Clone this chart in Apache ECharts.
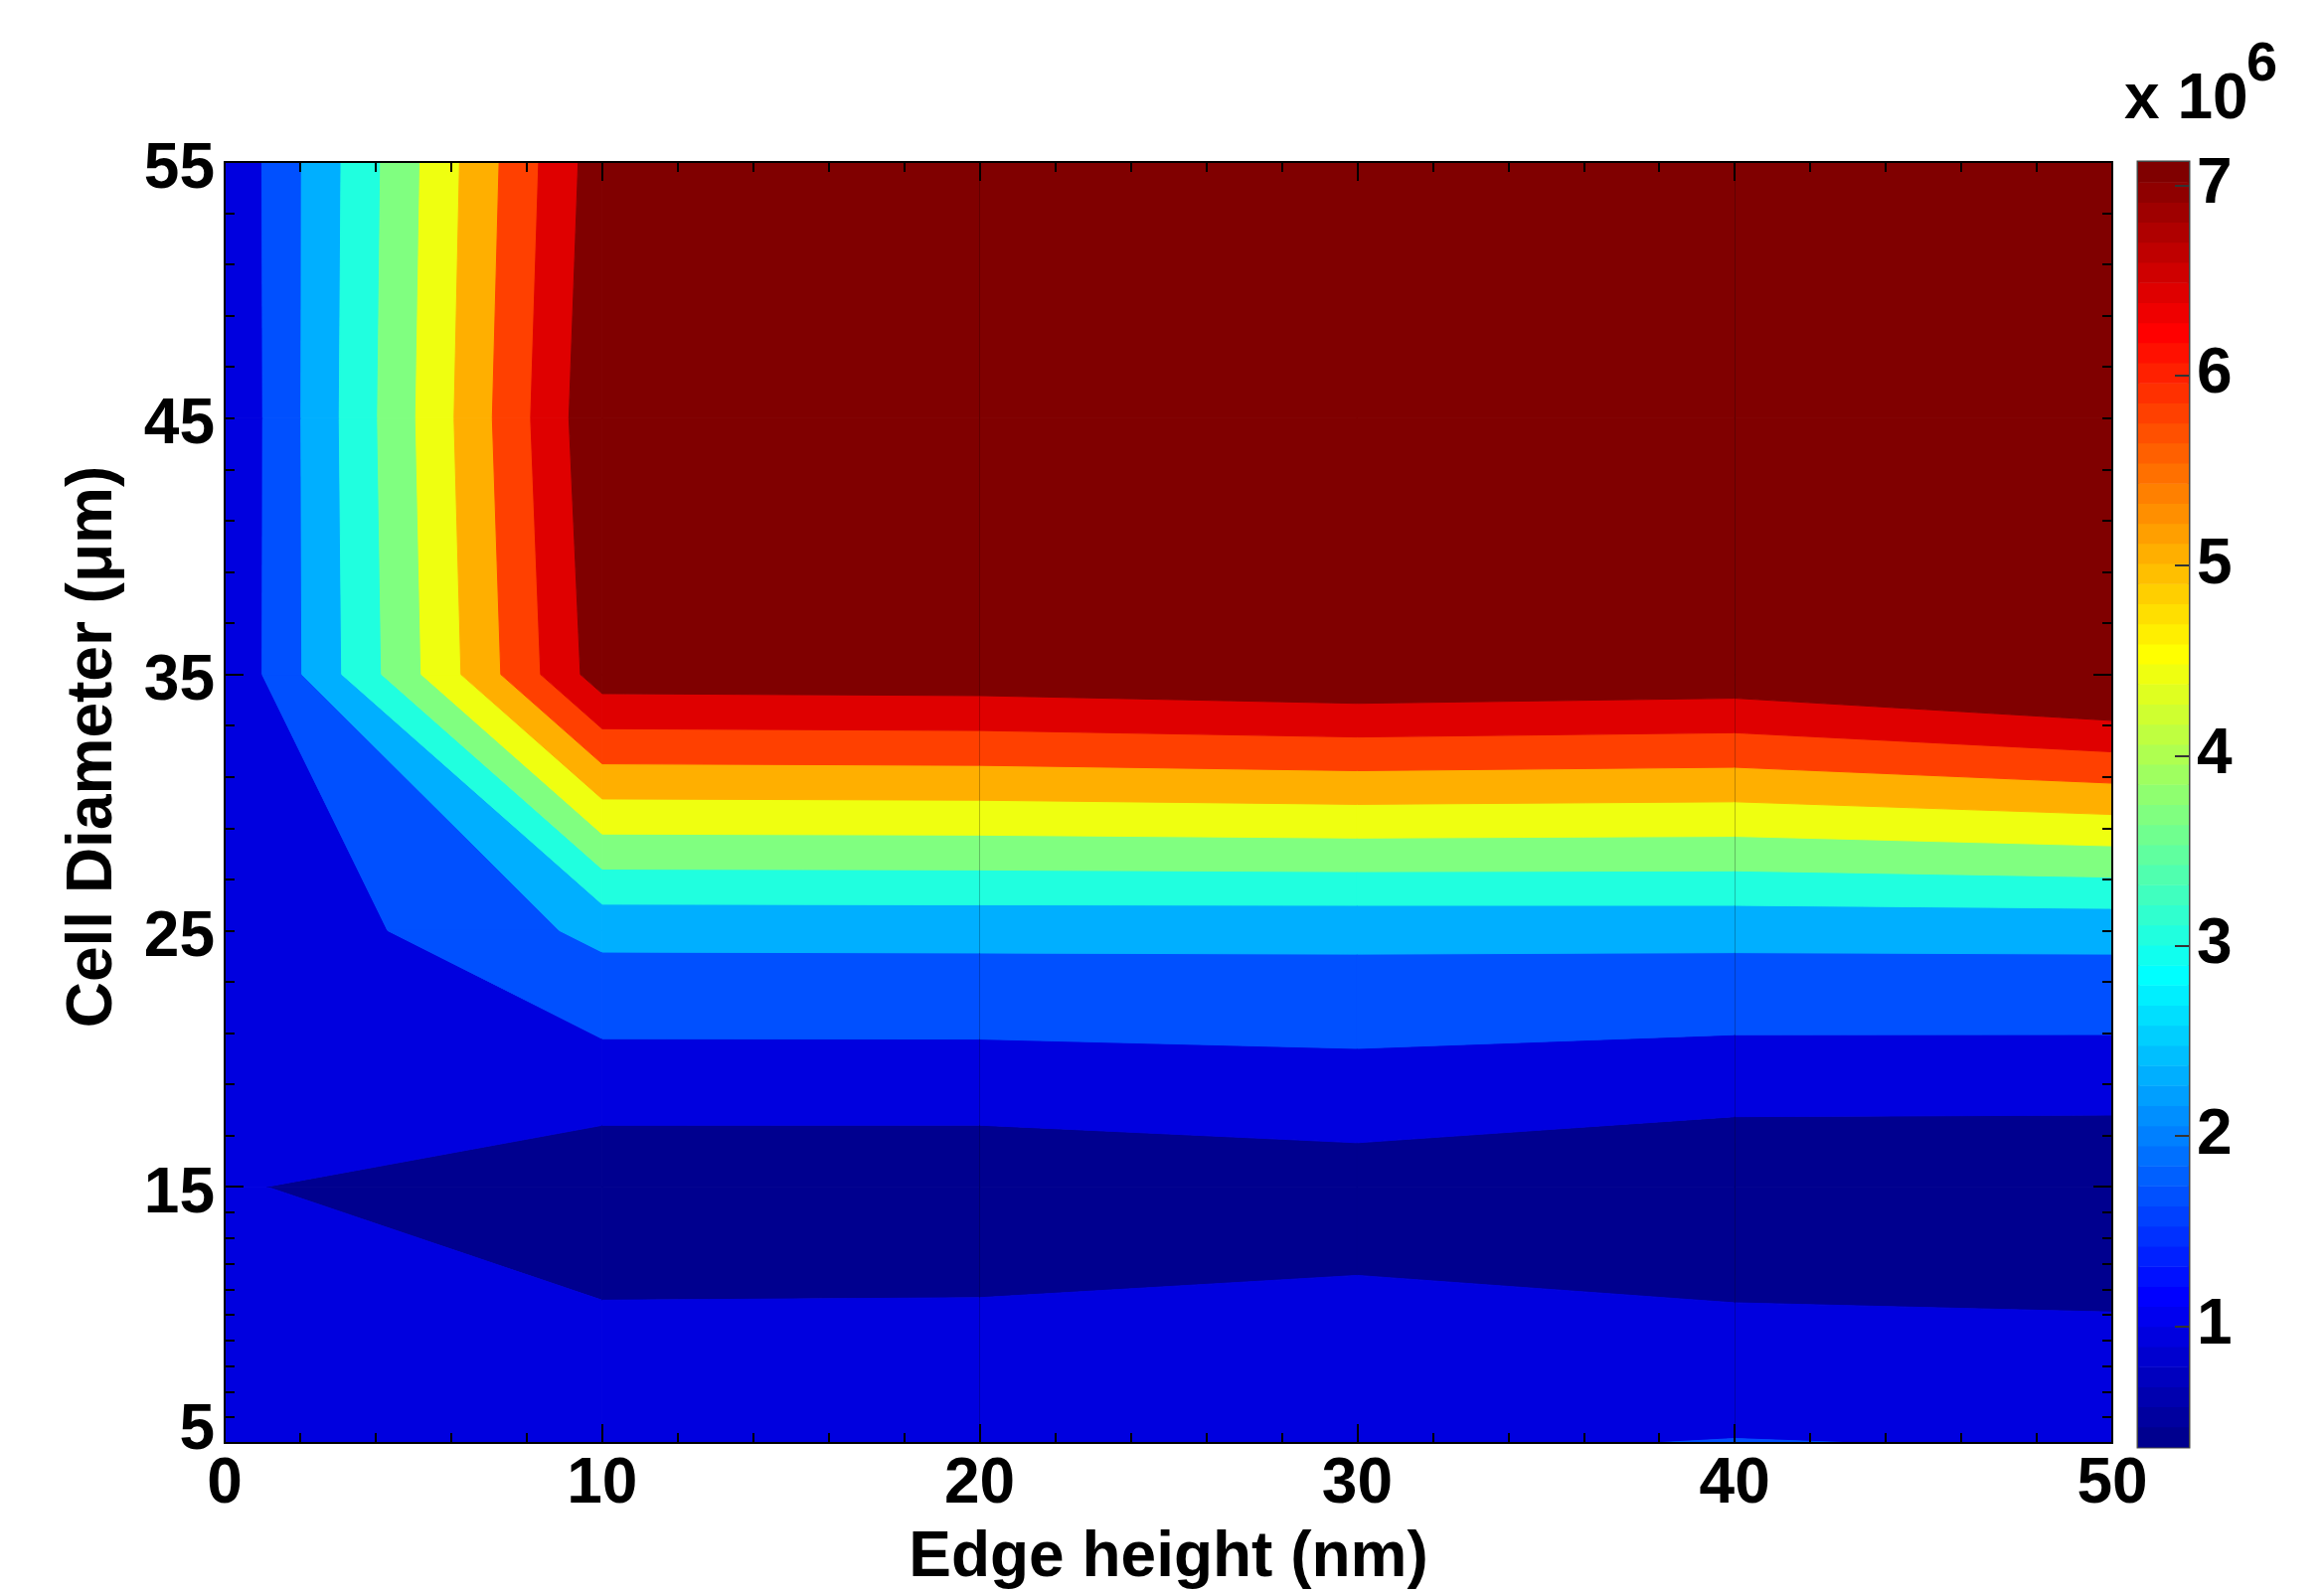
<!DOCTYPE html>
<html>
<head>
<meta charset="utf-8">
<script src="https://cdn.jsdelivr.net/npm/echarts@6/dist/echarts.min.js"></script>
<style>
    html, body { margin: 0; padding: 0; background: #fff; }
    #chart { width: 2338px; height: 1605px; }
</style>
</head>
<body>
<div id="chart"></div>
<script>
// grid of the contour plot
var edgeHeight = [0, 10, 20, 30, 40, 50];
var cellDiameter = [5, 15, 25, 35, 45, 55];

// values in units of 10^6, one row per cell diameter, columns follow edgeHeight
var rowD5 = [1.100, 1.644, 1.674, 1.637, 1.738, 1.670];
var rowD15 = [1.100, 0.560, 0.556, 0.724, 0.462, 0.437];
var rowD25 = [1.075, 2.560, 2.568, 2.561, 2.574, 2.590];
var rowD35 = [1.080, 7.493, 7.535, 7.704, 7.589, 8.118];
var rowD45 = [1.045, 7.710, 8.300, 8.400, 8.400, 8.600];
var rowD55 = [1.079, 7.533, 8.400, 8.500, 8.500, 8.700];

var contourLevels = [1.040, 1.716, 2.392, 3.068, 3.744, 4.419, 5.095, 5.771, 6.447, 7.123];
var bandColors = ['#00008F', '#0000DF', '#0050FF', '#00AFFF', '#20FFDF', '#80FF80',
    '#EFFF10', '#FFAF00', '#FF4000', '#DF0000', '#800000'];

// ticks
var yTickLabels = [5, 15, 25, 35, 45, 55];
var yLongTicks = [15, 35];
var yShortTicks = [6, 7, 8, 9, 10, 11, 12, 13, 14, 17, 19, 21, 23, 25, 27, 29, 31, 33,
    37, 39, 41, 43, 45, 47, 49, 51, 53];
var colorbarTicks = [1, 2, 3, 4, 5, 6, 7];
var colorMin = 0.364, colorMax = 7.123;

var FONT = '"Liberation Sans", Arial, sans-serif';
var rows = [rowD5, rowD15, rowD25, rowD35, rowD45, rowD55];

/**
 * matlab jet(n)
 */
function jet(n) {
    var m = Math.ceil(n / 4), u = [], k, i;
    for (k = 1; k <= m; k++) u.push(k / m);
    for (k = 1; k < m; k++) u.push(1);
    for (k = m; k >= 1; k--) u.push(k / m);
    var g0 = Math.ceil(m / 2) - (n % 4 === 1 ? 1 : 0);
    var r = [], g = [], b = [];
    for (i = 0; i < n; i++) { r[i] = 0; g[i] = 0; b[i] = 0; }
    for (k = 0; k < u.length; k++) {
        var gi = g0 + k + 1;
        if (gi >= 1 && gi <= n) g[gi - 1] = u[k];
        if (gi + m >= 1 && gi + m <= n) r[gi + m - 1] = u[k];
        if (gi - m >= 1 && gi - m <= n) b[gi - m - 1] = u[k];
    }
    var out = [];
    for (i = 0; i < n; i++) {
        out.push('rgb(' + Math.round(r[i] * 255) + ',' + Math.round(g[i] * 255) + ',' + Math.round(b[i] * 255) + ')');
    }
    return out;
}
var jetColors = jet(64);

// keep the part of a polygon (points [px, py, value]) on one side of a level
function clipPoly(poly, level, sign) {
    var out = [];
    for (var n = 0; n < poly.length; n++) {
        var a = poly[n], b = poly[(n + 1) % poly.length];
        var ina = sign * (a[2] - level) >= 0, inb = sign * (b[2] - level) >= 0;
        if (ina) out.push(a);
        if (ina !== inb) {
            var t = (level - a[2]) / (b[2] - a[2]);
            out.push([a[0] + t * (b[0] - a[0]), a[1] + t * (b[1] - a[1]), level]);
        }
    }
    return out;
}

var cells = [];
for (var i = 0; i < edgeHeight.length - 1; i++) {
    for (var j = 0; j < cellDiameter.length - 1; j++) {
        cells.push([edgeHeight[i], cellDiameter[j], i, j]);
    }
}

function renderCell(params, api) {
    var ci = api.value(2), cj = api.value(3);
    var corners = [[ci, cj], [ci + 1, cj], [ci + 1, cj + 1], [ci, cj + 1]];
    var poly = corners.map(function (c) {
        var p = api.coord([edgeHeight[c[0]], cellDiameter[c[1]]]);
        return [p[0], p[1], rows[c[1]][c[0]]];
    });
    var children = [];
    for (var k = 0; k <= contourLevels.length; k++) {
        var lo = k === 0 ? -Infinity : contourLevels[k - 1];
        var hi = k === contourLevels.length ? Infinity : contourLevels[k];
        var part = clipPoly(clipPoly(poly, lo, 1), hi, -1);
        if (part.length < 3) continue;
        children.push({
            type: 'polygon',
            shape: { points: part.map(function (p) { return [p[0], p[1]]; }) },
            style: { fill: bandColors[k], stroke: bandColors[k], lineWidth: 1 }
        });
    }
    return { type: 'group', children: children };
}

var colorSteps = [];
for (var s = 0; s < jetColors.length; s++) colorSteps.push([0, colorMin + s * (colorMax - colorMin) / 64, s]);

function renderStep(params, api) {
    var idx = api.value(2);
    var lo = api.value(1);
    var hi = lo + (colorMax - colorMin) / 64;
    var p0 = api.coord([0, lo]);
    var p1 = api.coord([1, hi]);
    return {
        type: 'rect',
        shape: { x: p0[0], y: p1[1], width: p1[0] - p0[0], height: p0[1] - p1[1] + 0.5 },
        style: { fill: jetColors[idx] }
    };
}

var labelStyle = { fontFamily: FONT, fontWeight: 'bold', fontSize: 64, color: '#000' };
var blackLine = { show: true, onZero: false, lineStyle: { color: '#000', width: 2 } };

function tickAxis(position, values, length) {
    return {
        type: 'value', gridIndex: 0, position: position, min: 5, max: 55, z: 5,
        axisLine: { show: false, onZero: false },
        axisLabel: { show: false },
        splitLine: { show: false },
        axisTick: { show: true, inside: true, length: length, customValues: values,
            lineStyle: { color: '#000', width: 2 } }
    };
}

var chart = echarts.init(document.getElementById('chart'));
var option = {
    animation: false,
    backgroundColor: '#fff',
    grid: [
        { left: 226, top: 163, width: 1899, height: 1293 },
        { left: 2151, top: 163, width: 51, height: 1293, show: true, borderColor: '#444', borderWidth: 3 }
    ],
    xAxis: [
        {
            type: 'value', gridIndex: 0, position: 'bottom', min: 0, max: 50, interval: 10, z: 5,
            name: 'Edge height (nm)', nameLocation: 'middle', nameGap: 84,
            nameTextStyle: labelStyle,
            axisLine: blackLine,
            axisTick: { inside: true, length: 19, lineStyle: { color: '#000', width: 2 } },
            minorTick: { show: true, splitNumber: 5, length: 10, lineStyle: { color: '#000', width: 2 } },
            axisLabel: Object.assign({ margin: 10 }, labelStyle),
            splitLine: { show: false }
        },
        {
            type: 'value', gridIndex: 0, position: 'top', min: 0, max: 50, interval: 10, z: 5,
            axisLine: blackLine,
            axisTick: { inside: true, length: 19, lineStyle: { color: '#000', width: 2 } },
            minorTick: { show: true, splitNumber: 5, length: 10, lineStyle: { color: '#000', width: 2 } },
            axisLabel: { show: false },
            splitLine: { show: false }
        },
        {
            type: 'value', gridIndex: 1, min: 0, max: 1, show: false,
            axisLine: { onZero: false }
        }
    ],
    yAxis: [
        {
            type: 'value', gridIndex: 0, position: 'left', min: 5, max: 55, interval: 10, z: 5,
            name: 'Cell Diameter (\u03bcm)', nameLocation: 'middle', nameGap: 100,
            nameTextStyle: Object.assign({ padding: [0, 0, 0, 112] }, labelStyle),
            axisLine: blackLine,
            axisTick: { show: false },
            axisLabel: Object.assign({
                margin: 10,
                padding: [16, 0, 0, 0],
                customValues: yTickLabels,
                formatter: function (v) { return v === 5 ? '{low|5}' : String(v); },
                rich: { low: Object.assign({ padding: [0, 0, 40, 0] }, labelStyle) }
            }, labelStyle),
            splitLine: { show: false }
        },
        tickAxis('left', yLongTicks, 19),
        tickAxis('left', yShortTicks, 10),
        Object.assign(tickAxis('right', yLongTicks, 19), { axisLine: blackLine }),
        tickAxis('right', yShortTicks, 10),
        {
            type: 'value', gridIndex: 1, position: 'right', min: colorMin, max: colorMax, z: 5,
            axisLine: { show: false, onZero: false },
            axisTick: { inside: true, length: 14, customValues: colorbarTicks, lineStyle: { color: '#333', width: 2 } },
            axisLabel: Object.assign({ margin: 8, padding: [10, 0, 0, 0], customValues: colorbarTicks }, labelStyle),
            splitLine: { show: false }
        }
    ],
    graphic: [
        { type: 'text', x: 2137, y: 101, style: { text: 'x 10', font: 'bold 64px ' + FONT, fill: '#000', verticalAlign: 'middle' } },
        { type: 'text', x: 2260, y: 66, style: { text: '6', font: 'bold 56px ' + FONT, fill: '#000', verticalAlign: 'middle' } }
    ],
    series: [
        {
            type: 'custom',
            xAxisIndex: 0,
            yAxisIndex: 0,
            clip: true,
            renderItem: renderCell,
            encode: { x: 0, y: 1 },
            data: cells,
            markLine: {
                silent: true,
                symbol: ['none', 'none'],
                label: { show: false },
                lineStyle: { color: 'rgba(0,0,0,0.25)', width: 1, type: 'solid' },
                data: [{ xAxis: 20 }, { xAxis: 40 }]
            }
        },
        {
            type: 'custom',
            xAxisIndex: 2,
            yAxisIndex: 5,
            renderItem: renderStep,
            encode: { x: 0, y: 1 },
            data: colorSteps
        }
    ]
};
chart.setOption(option);
</script>
</body>
</html>
